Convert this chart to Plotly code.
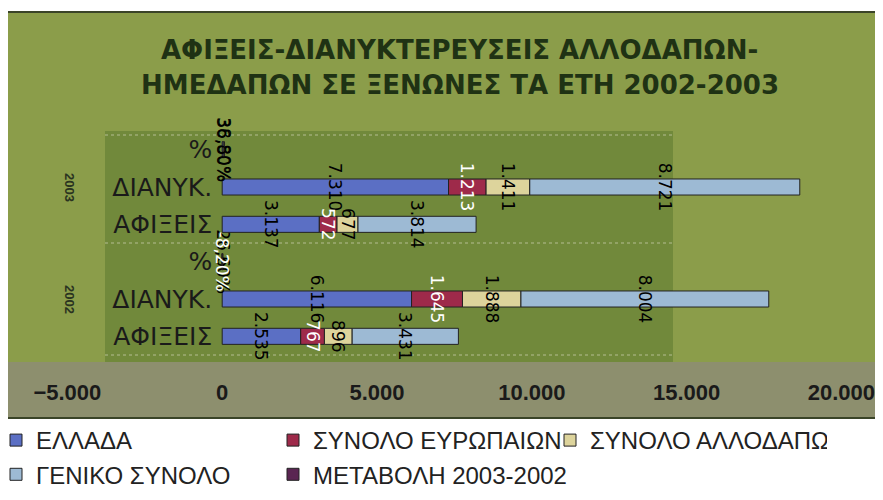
import plotly.graph_objects as go

# rows from bottom to top (plotly draws the first category at the bottom)
rows = ["2002 ΑΦΙΞΕΙΣ", "2002 ΔΙΑΝΥΚ.", "2002 %", "2003 ΑΦΙΞΕΙΣ", "2003 ΔΙΑΝΥΚ.", "2003 %"]
row_labels = ["ΑΦΙΞΕΙΣ", "ΔΙΑΝΥΚ.", "%", "ΑΦΙΞΕΙΣ", "ΔΙΑΝΥΚ.", "%"]
years = ["2002", "2003"]
year_rows = ["2002 ΔΙΑΝΥΚ.", "2003 ΔΙΑΝΥΚ."]

ellada = [2535, 6116, 26.6, 3137, 7310, 36.8]
europaioi = [767, 1645, -8.2, 572, 1213, None]
allodapoi = [896, 1888, None, 677, 1411, 38.8]
geniko = [3431, 8004, None, 3814, 8721, None]
metavoli = [None, None, None, None, None, None]

x_ticks = [-5000, 0, 5000, 10000, 15000, 20000]
x_range = [-5400, 20600]

title_lines = ["ΑΦΙΞΕΙΣ-ΔΙΑΝΥΚΤΕΡΕΥΣΕΙΣ ΑΛΛΟΔΑΠΩΝ-", "ΗΜΕΔΑΠΩΝ ΣΕ ΞΕΝΩΝΕΣ ΤΑ ΕΤΗ 2002-2003"]

W, H = 883, 500
OFF = 8  # the page body margin shifts the figure by this much on screen
# plot area wanted on screen: left 55, right 860, top 131, bottom 355
M_L, M_T = 55 - OFF, 131 - OFF
M_R, M_B = W - (860 - OFF), H - (355 - OFF)
PW, PH = W - M_L - M_R, H - M_T - M_B
FONT = "Liberation Sans, Arial, sans-serif"
WIDE = "DejaVu Sans, Verdana, sans-serif"


def px(x):
    return (x - OFF - M_L) / PW


def py(y):
    return (H - M_B - (y - OFF)) / PH


def label(v, row):
    if v is None:
        return ""
    if row.endswith("%"):
        return f"{v:.2f}%".replace(".", ",")
    return f"{v:,.0f}".replace(",", ".")


series = [
    ("ΕΛΛΑΔΑ", ellada, "#5b6fc4", "black"),
    ("ΣΥΝΟΛΟ ΕΥΡΩΠΑΙΩΝ", europaioi, "#9e2a4a", "white"),
    ("ΣΥΝΟΛΟ ΑΛΛΟΔΑΠΩΝ", allodapoi, "#ddd49c", "black"),
    ("ΓΕΝΙΚΟ ΣΥΝΟΛΟ", geniko, "#9dbad4", "black"),
    ("ΜΕΤΑΒΟΛΗ 2003-2002", metavoli, "#5a2552", "black"),
]

fig = go.Figure()
for name, values, color, text_color in series:
    fig.add_bar(
        y=rows, x=values, name=name, orientation="h",
        marker=dict(color=color, line=dict(color="#222", width=1)),
        text=[label(v, r) for v, r in zip(values, rows)],
        textposition="inside", insidetextanchor="middle", textangle=90,
        constraintext="none", cliponaxis=False,
        textfont=dict(family=WIDE, size=17, color=text_color),
    )

zero_pos = (0 - x_range[0]) / (x_range[1] - x_range[0])

shapes = [
    # green panel
    dict(type="rect", xref="paper", yref="paper", x0=px(5), x1=px(900), y0=py(418), y1=py(12),
         fillcolor="#8b9d4a", line=dict(color="#3a4428", width=2), layer="below"),
    # greyish band under the plot
    dict(type="rect", xref="paper", yref="paper", x0=px(6), x1=px(900), y0=py(417), y1=py(362),
         fillcolor="#8d8f6e", line=dict(width=0), layer="below"),
    # darker plot area
    dict(type="rect", xref="paper", yref="paper", x0=px(105), x1=px(673), y0=py(362), y1=py(131),
         fillcolor="#71893b", line=dict(width=0), layer="below"),
]
for yy in (135, 243, 355):
    shapes.append(dict(type="line", xref="paper", yref="paper", x0=px(105), x1=px(673),
                       y0=py(yy), y1=py(yy), line=dict(color="rgba(225,225,205,0.6)", width=1, dash="dot"),
                       layer="below"))

annotations = [
    dict(text=t, xref="paper", yref="paper", x=px(460), y=py(yy), showarrow=False,
         xanchor="center", yanchor="middle",
         font=dict(family=WIDE, size=26, weight="bold", color="#1f3214"))
    for t, yy in zip(title_lines, (50, 85))
]
for yr, r in zip(years, year_rows):
    annotations.append(dict(text=yr, xref="paper", yref="y", x=px(70), y=r, showarrow=False,
                            textangle=90, xanchor="center", yanchor="middle",
                            font=dict(family=FONT, size=13, weight="bold", color="#2a3320")))

fig.update_layout(
    width=W, height=H,
    margin=dict(l=M_L, r=M_R, t=M_T, b=M_B, autoexpand=False),
    paper_bgcolor="white", plot_bgcolor="rgba(0,0,0,0)",
    barmode="relative", bargap=0.57,
    separators=",.",
    font=dict(family=FONT, color="#1a1a1a"),
    xaxis=dict(range=x_range, tickvals=x_ticks, tickformat=",", showgrid=False, zeroline=False,
               showline=False, ticks="", ticklabelstandoff=22, automargin=False,
               tickfont=dict(size=22, weight="bold", color="#1a1a1a")),
    yaxis=dict(type="category", categoryorder="array", categoryarray=rows,
               tickvals=rows, ticktext=row_labels, anchor="free", position=zero_pos,
               showgrid=False, zeroline=False, showline=False, ticks="", ticklabelstandoff=10,
               automargin=False, tickfont=dict(family=WIDE, size=25, color="#1a1a1a")),
    showlegend=True,
    legend=dict(orientation="h", xref="paper", yref="paper",
                x=px(-4), y=py(418),
                xanchor="left", yanchor="top", itemwidth=30,
                entrywidth=232, entrywidthmode="pixels", traceorder="normal",
                bgcolor="rgba(0,0,0,0)", font=dict(family=FONT, size=24, color="#222")),
    shapes=shapes, annotations=annotations,
)

fig.write_html("out.html")
